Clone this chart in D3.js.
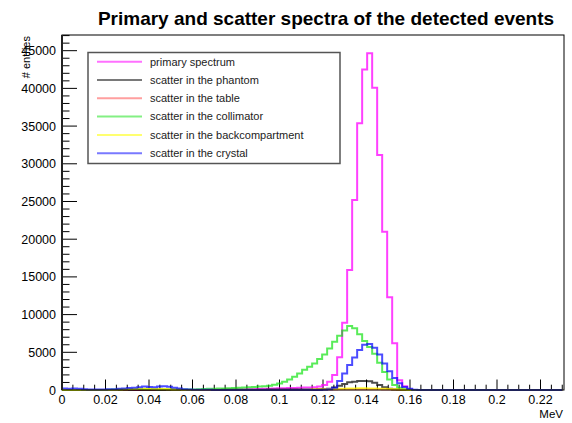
<!DOCTYPE html>
<html>
<head>
<meta charset="utf-8">
<script src="https://cdn.jsdelivr.net/npm/d3@7"></script>
<style>
body { margin: 0; background: #fff; }
text { font-family: "Liberation Sans", Arial, Helvetica, sans-serif; }
</style>
</head>
<body>
<svg id="chart" width="572" height="423"></svg>
<script>
// histogram binning: 100 bins between 0 and 0.23 MeV
const nBins = 100
const xLow = 0
const xHigh = 0.23

const seriesNames =
    [ 'primary spectrum'
    , 'scatter in the phantom'
    , 'scatter in the table'
    , 'scatter in the collimator'
    , 'scatter in the backcompartment'
    , 'scatter in the crystal'
    ]

const primary =
    [ 0,0,0,0,0,0,0,0,0,0
    , 0,0,0,0,0,0,0,0,0,0
    , 0,0,0,0,0,0,0,0,0,10
    , 20,30,40,50,60,70,80,100,110,130
    , 160,180,200,220,240,260,280,300,320,340
    , 380,460,660,1100,1990,4330,8920,15900,25200,35360
    , 42520,44650,40090,31160,21000,12300,6200,1300,500,80
    , 0,0,0,0,0,0,0,0,0,0
    , 0,0,0,0,0,0,0,0,0,0
    , 0,0,0,0,0,0,0,0,0,0
    ]

const phantom =
    [ 0,0,0,0,0,0,0,0,0,0
    , 0,0,0,0,0,0,0,0,0,0
    , 0,0,0,0,0,0,0,0,0,0
    , 10,10,20,20,20,30,30,30,40,40
    , 40,50,50,50,60,60,60,70,70,80
    , 80,90,120,180,320,560,800,1040,1100,1200
    , 1200,1150,950,650,350,170,60,20,0,0
    , 0,0,0,0,0,0,0,0,0,0
    , 0,0,0,0,0,0,0,0,0,0
    , 0,0,0,0,0,0,0,0,0,0
    ]

const table =
    [ 0,0,0,0,0,0,0,0,0,0
    , 0,30,40,50,50,60,60,60,50,50
    , 40,40,30,20,0,0,0,0,0,0
    , 0,0,0,0,0,0,0,0,0,0
    , 0,0,0,0,0,0,0,0,0,0
    , 40,50,60,70,80,90,100,100,110,110
    , 110,100,100,90,80,70,60,40,20,0
    , 0,0,0,0,0,0,0,0,0,0
    , 0,0,0,0,0,0,0,0,0,0
    , 0,0,0,0,0,0,0,0,0,0
    ]

const collimator =
    [ 0,0,0,0,0,0,0,0,0,40
    , 60,80,100,100,120,120,110,100,90,80
    , 80,70,60,60,50,60,80,100,120,150
    , 170,190,210,230,260,300,330,360,400,450
    , 500,580,680,850,1100,1400,1750,2200,2700,3100
    , 3500,4100,4700,5500,6400,7200,7900,8500,8200,7400
    , 6500,5700,4800,3600,2400,1400,650,300,100,20
    , 0,0,0,0,0,0,0,0,0,0
    , 0,0,0,0,0,0,0,0,0,0
    , 0,0,0,0,0,0,0,0,0,0
    ]

const backcompartment =
    [ 0,0,0,0,0,0,0,0,0,0
    , 0,80,100,120,140,150,150,150,140,130
    , 120,100,80,50,0,0,0,0,0,0
    , 0,0,0,0,0,0,0,0,0,0
    , 0,0,0,0,0,0,0,0,0,0
    , 60,80,100,120,140,160,180,200,210,220
    , 220,210,200,180,160,140,110,80,40,0
    , 0,0,0,0,0,0,0,0,0,0
    , 0,0,0,0,0,0,0,0,0,0
    , 0,0,0,0,0,0,0,0,0,0
    ]

const crystal =
    [ 200,150,200,150,100,80,60,60,70,90
    , 100,150,200,250,300,350,450,400,380,450
    , 500,420,300,200,100,50,20,20,20,20
    , 10,10,10,10,10,10,10,10,10,10
    , 10,10,10,10,10,10,10,10,10,10
    , 10,10,30,100,300,1200,2200,3300,4300,5300
    , 6000,6100,5600,4700,3500,2500,1600,900,400,150
    , 30,0,0,0,0,0,0,0,0,0
    , 0,0,0,0,0,0,0,0,0,0
    , 0,0,0,0,0,0,0,0,0,0
    ]

const seriesValues = [primary, phantom, table, collimator, backcompartment, crystal]
const seriesColors = ['#ff00ff', '#000000', '#ff0000', '#00e000', '#ffff00', '#0000ff']
const seriesOpacity = [0.75, 0.7, 0.5, 0.65, 0.75, 0.7]

const yTicks = [0, 5000, 10000, 15000, 20000, 25000, 30000, 35000, 40000, 45000]
const xTicks = [0, 0.02, 0.04, 0.06, 0.08, 0.1, 0.12, 0.14, 0.16, 0.18, 0.2, 0.22]

const frameL = 62, frameR = 564, frameT = 35, frameB = 390

const svg = d3.select('#chart')

const x = d3.scaleLinear().domain([0, 0.2308]).range([frameL, frameR])
const y = d3.scaleLinear().domain([0, 47080]).range([frameB, frameT])

svg.append('defs').append('clipPath').attr('id', 'frame')
    .append('rect')
    .attr('x', frameL).attr('y', frameT - 1)
    .attr('width', frameR - frameL).attr('height', frameB - frameT + 2)

// title
svg.append('text')
    .attr('x', 326).attr('y', 25)
    .attr('text-anchor', 'middle')
    .attr('font-size', 19).attr('font-weight', 'bold')
    .text('Primary and scatter spectra of the detected events')

// minor ticks
const yMinor = d3.range(0, 47001, 1000)
svg.append('g').selectAll('line').data(yMinor).enter().append('line')
    .attr('x1', frameL).attr('x2', d => frameL + (d % 5000 === 0 ? 15 : 7.5))
    .attr('y1', d => y(d)).attr('y2', d => y(d))
    .attr('stroke', '#000').attr('stroke-width', 1)

const xMinor = d3.range(0, 47).map(i => i * 0.005)
svg.append('g').selectAll('line').data(xMinor).enter().append('line')
    .attr('x1', d => x(d)).attr('x2', d => x(d))
    .attr('y1', frameB).attr('y2', (d, i) => frameB - (i % 4 === 0 ? 10.5 : 5.3))
    .attr('stroke', '#000').attr('stroke-width', 1)

// tick labels
svg.append('g').selectAll('text').data(yTicks).enter().append('text')
    .attr('x', 56).attr('y', d => y(d))
    .attr('dy', '0.36em')
    .attr('text-anchor', 'end')
    .attr('font-size', 12.5)
    .text(d => d)

svg.append('g').selectAll('text').data(xTicks).enter().append('text')
    .attr('x', d => x(d)).attr('y', 404)
    .attr('text-anchor', 'middle')
    .attr('font-size', 12.5)
    .text(d => d3.format('~g')(d))

svg.append('text')
    .attr('x', 563).attr('y', 418)
    .attr('text-anchor', 'end')
    .attr('font-size', 11.5)
    .text('MeV')

svg.append('text')
    .attr('transform', 'translate(30,36) rotate(-90)')
    .attr('text-anchor', 'end')
    .attr('font-size', 11)
    .text('# entries')

// histograms
const binWidth = (xHigh - xLow) / nBins
const stepPoints = (vals) => {
    const pts = [[xLow, 0]]
    vals.forEach((v, i) => {
        pts.push([xLow + i * binWidth, v])
        pts.push([xLow + (i + 1) * binWidth, v])
    })
    pts.push([xHigh, 0])
    return pts
}

const line = d3.line()
    .x(d => x(d[0]))
    .y(d => y(d[1]))

svg.append('g').attr('clip-path', 'url(#frame)')
    .selectAll('path')
    .data(seriesValues)
    .enter()
    .append('path')
    .attr('d', d => line(stepPoints(d)))
    .attr('fill', 'none')
    .attr('stroke', (d, i) => seriesColors[i])
    .attr('stroke-opacity', (d, i) => seriesOpacity[i])
    .attr('stroke-width', 2)

// frame
svg.append('rect')
    .attr('x', frameL).attr('y', frameT)
    .attr('width', frameR - frameL).attr('height', frameB - frameT)
    .attr('fill', 'none')
    .attr('stroke', '#000').attr('stroke-width', 1)

svg.append('line')
    .attr('x1', frameL).attr('x2', frameL)
    .attr('y1', frameT).attr('y2', frameB)
    .attr('stroke', '#222').attr('stroke-width', 2)

// legend
const legend = svg.append('g')
legend.append('rect')
    .attr('x', 88).attr('y', 52.5)
    .attr('width', 252).attr('height', 111)
    .attr('fill', '#fff')
    .attr('stroke', '#555').attr('stroke-width', 1.5)

const rows = legend.selectAll('g.row')
    .data(seriesNames)
    .enter()
    .append('g')
    .attr('transform', (d, i) => 'translate(0,' + (61.7 + i * 18.3) + ')')

rows.append('line')
    .attr('x1', 97).attr('x2', 142)
    .attr('stroke', (d, i) => seriesColors[i])
    .attr('stroke-opacity', (d, i) => seriesOpacity[i] * 0.75)
    .attr('stroke-width', 2)

rows.append('text')
    .attr('x', 150)
    .attr('dy', '0.35em')
    .attr('font-size', 11)
    .attr('fill', '#222')
    .text(d => d)
</script>
</body>
</html>
